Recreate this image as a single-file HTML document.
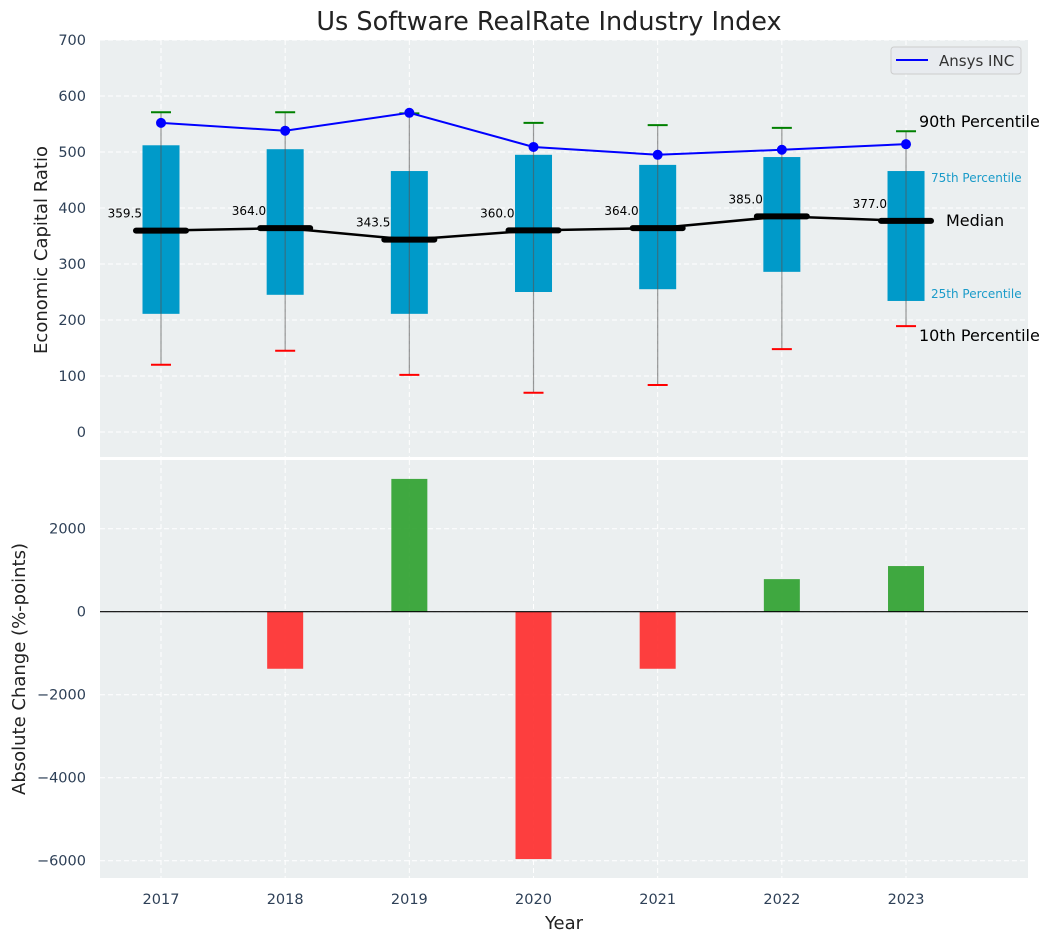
<!DOCTYPE html>
<html><head><meta charset="utf-8">
<style>
body{margin:0;background:#fff;}
svg{display:block;font-family:"DejaVu Sans","Liberation Sans",sans-serif;}
</style></head>
<body>
<svg id="chart" width="1054" height="942" viewBox="0 0 1054 942">
<text x="549" y="30" font-size="25.5" text-anchor="middle" fill="#222">Us Software RealRate Industry Index</text>
<rect x="100" y="40" width="928" height="417" fill="#ebeff0"/>
<rect x="100" y="460" width="928" height="418" fill="#ebeff0"/>
<g id="gtop"></g>
<g id="gbot"></g>
<text x="47" y="250" font-size="18" fill="#222" text-anchor="middle" transform="rotate(-90 47 250)">Economic Capital Ratio</text>
<text x="25" y="669" font-size="18" fill="#222" text-anchor="middle" transform="rotate(-90 25 669)">Absolute Change (%-points)</text>
<text x="564" y="929" font-size="18" fill="#222" text-anchor="middle">Year</text>
<g>
<rect x="891" y="47" width="130" height="27" rx="3" fill="#e8ebef" stroke="#ccc"/>
<line x1="896" y1="60" x2="928" y2="60" stroke="#0000ff" stroke-width="2"/>
<text x="939" y="66" font-size="15" fill="#333">Ansys INC</text>
</g>
<text x="919" y="127" font-size="16" fill="#000">90th Percentile</text>
<text x="931" y="182" font-size="12" fill="#1a9bc9">75th Percentile</text>
<text x="946" y="226" font-size="16" fill="#000">Median</text>
<text x="931" y="298" font-size="12" fill="#1a9bc9">25th Percentile</text>
<text x="919" y="341" font-size="16" fill="#000">10th Percentile</text>
</svg>
<script>
const years=[2017,2018,2019,2020,2021,2022,2023];
const p90=[571,571,569,552,548,543,537];
const p75=[512,505,466,495,477,491,466];
const median=[359.5,364.0,343.5,360.0,364.0,385.0,377.0];
const p25=[211,245,211,250,255,286,234];
const p10=[120,145,102,70,84,148,189];
const ansys=[552,538,570,509,495,504,514];
const change=[0,-1375,3200,-5960,-1375,785,1100];
const topTicks=[0,100,200,300,400,500,600,700];
const botTicks=[-6000,-4000,-2000,0,2000];

const NS='http://www.w3.org/2000/svg';
function X(yr){return 161+(yr-2017)*124.17;}
function Y1(v){return 432-v*0.56;}
function Y2(v){return 611.7-v*0.0415;}
function mk(parent,tag,attrs,name){const e=document.createElementNS(NS,tag);for(const k in attrs)e.setAttribute(k,attrs[k]);


parent.appendChild(e);return e;}
const gTop=document.getElementById('gtop'),gBot=document.getElementById('gbot');
topTicks.forEach(t=>{const y=Y1(t);
mk(gTop,'line',{x1:100,x2:1028,y1:y,y2:y,stroke:'#fff','stroke-dasharray':'5,3','stroke-width':1},'top-grid-line');
const tx=mk(gTop,'text',{x:86,y:y+5,'font-size':14.5,fill:'#2e4057','text-anchor':'end'},'top-y-tick');tx.textContent=t;});
botTicks.forEach(t=>{const y=Y2(t);
mk(gBot,'line',{x1:100,x2:1028,y1:y,y2:y,stroke:'#fff','stroke-dasharray':'5,3','stroke-width':1},'bottom-grid-line');
const tx=mk(gBot,'text',{x:86,y:y+5,'font-size':14.5,fill:'#2e4057','text-anchor':'end'},'bottom-y-tick');tx.textContent=(t<0?'\u2212'+(-t):t);});
years.forEach(yr=>{const x=X(yr);
mk(gTop,'line',{x1:x,x2:x,y1:40,y2:457,stroke:'#fff','stroke-dasharray':'5,3'},'top-x-grid');
mk(gBot,'line',{x1:x,x2:x,y1:460,y2:878,stroke:'#fff','stroke-dasharray':'5,3'},'bottom-x-grid');
const tx=mk(gBot,'text',{x:x,y:904,'font-size':14.5,fill:'#2e4057','text-anchor':'middle'},'x-tick');tx.textContent=yr;});
years.forEach((yr,i)=>{const x=X(yr);
mk(gTop,'rect',{x:x-18.5,y:Y1(p75[i]),width:37,height:Y1(p25[i])-Y1(p75[i]),fill:'#009ac9'},'iqr-box');
mk(gTop,'line',{x1:x,x2:x,y1:Y1(p90[i]),y2:Y1(p10[i]),stroke:'#555','stroke-opacity':0.6,'stroke-width':1.2},'whisker');
mk(gTop,'line',{x1:x-10,x2:x+10,y1:Y1(p90[i]),y2:Y1(p90[i]),stroke:'#008000','stroke-width':2},'p90-cap');
mk(gTop,'line',{x1:x-10,x2:x+10,y1:Y1(p10[i]),y2:Y1(p10[i]),stroke:'#ff0000','stroke-width':2},'p10-cap');
});
mk(gTop,'polyline',{points:years.map((yr,i)=>X(yr)+','+Y1(median[i])).join(' '),fill:'none',stroke:'#000','stroke-width':2.5},'median-line');
years.forEach((yr,i)=>{const x=X(yr),y=Y1(median[i]);
mk(gTop,'line',{x1:x-25,x2:x+25,y1:y,y2:y,stroke:'#000','stroke-width':6,'stroke-linecap':'round'},'median-marker');
const t=mk(gTop,'text',{x:x-19,y:y-13,'font-size':12,fill:'#000','text-anchor':'end'},'median-value');t.textContent=median[i].toFixed(1);});
mk(gTop,'polyline',{points:years.map((yr,i)=>X(yr)+','+Y1(ansys[i])).join(' '),fill:'none',stroke:'#0000ff','stroke-width':2},'ansys-line');
years.forEach((yr,i)=>mk(gTop,'circle',{cx:X(yr),cy:Y1(ansys[i]),r:5,fill:'#0000ff'},'ansys-point'));
years.forEach((yr,i)=>{const x=X(yr),v=change[i];if(v===0)return;
const y0=Y2(0),y1=Y2(v);
mk(gBot,'rect',{x:x-18,y:Math.min(y0,y1),width:36,height:Math.abs(y1-y0),fill:v>0?'#2ca02c':'#ff2a2a','fill-opacity':0.9},'change-bar');});
mk(gBot,'line',{x1:100,x2:1028,y1:Y2(0),y2:Y2(0),stroke:'#000','stroke-width':1.2},'zero-line');
</script>
</body></html>
